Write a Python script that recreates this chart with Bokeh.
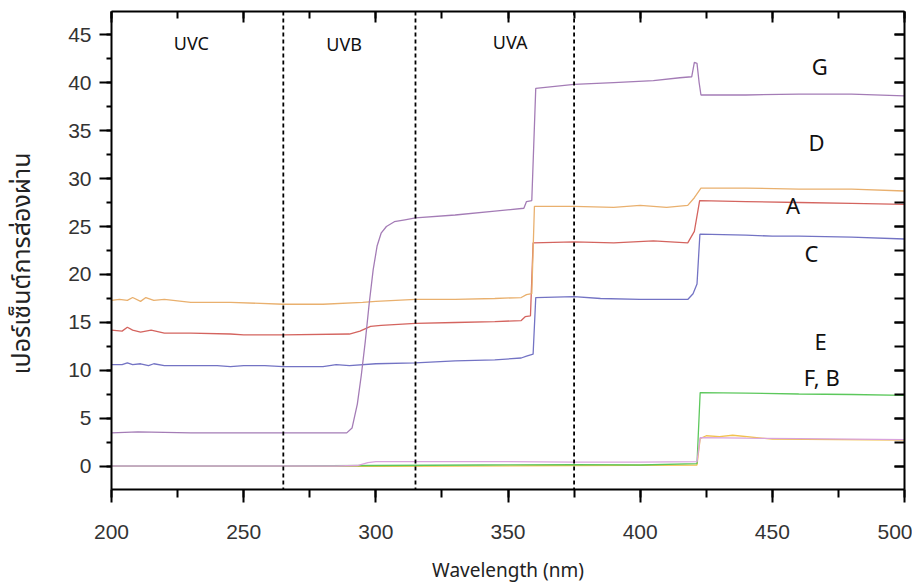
from bokeh.plotting import figure
from bokeh.models import LinearAxis, Range1d, SingleIntervalTicker, Span, ColumnDataSource
from bokeh.embed import file_html
from bokeh.resources import INLINE
from bokeh.core.properties import value

# ---------------- data ----------------
g_x = [200, 210, 230, 260, 289, 291, 293, 294.5, 296, 297.5, 299, 300.5, 302, 304, 307, 311, 315,
       330, 345, 356, 357, 359, 360.5, 375, 390, 405, 415, 419.5, 420.5, 421.5, 422.3, 423,
       440, 460, 480, 500]
g_y = [3.5, 3.6, 3.5, 3.5, 3.5, 4.0, 6.5, 9.5, 13.0, 17.0, 20.5, 23.0, 24.3, 25.0, 25.5, 25.7, 25.9,
       26.2, 26.6, 26.9, 27.6, 27.7, 39.4, 39.8, 40.0, 40.2, 40.5, 40.6, 42.1, 42.0, 40.0, 38.7,
       38.7, 38.8, 38.8, 38.6]

d_x = [200, 203, 206, 208, 211, 213, 216, 220, 230, 245, 265, 280, 295, 300, 315, 330, 345,
       355, 357, 359, 360, 375, 390, 400, 410, 418, 420.5, 423, 440, 460, 480, 500]
d_y = [17.3, 17.4, 17.3, 17.6, 17.2, 17.6, 17.3, 17.4, 17.1, 17.1, 16.9, 16.9, 17.1, 17.2, 17.4,
       17.4, 17.5, 17.6, 17.9, 18.0, 27.1, 27.1, 27.0, 27.2, 27.0, 27.2, 28.0, 29.0, 29.0, 28.9,
       28.9, 28.7]

a_x = [200, 204, 206, 208, 211, 215, 220, 230, 245, 250, 265, 290, 294, 298, 302, 315, 330, 345,
       355, 356.5, 358.5, 359.5, 375, 390, 405, 418, 420.5, 422.5, 440, 460, 480, 500]
a_y = [14.2, 14.1, 14.5, 14.2, 14.0, 14.2, 13.9, 13.9, 13.8, 13.7, 13.7, 13.8, 14.1, 14.6, 14.7,
       14.9, 15.0, 15.1, 15.2, 15.6, 15.7, 23.3, 23.4, 23.3, 23.5, 23.3, 24.5, 27.7, 27.6, 27.5,
       27.4, 27.3]

c_x = [200, 204, 206, 208, 211, 214, 216, 220, 230, 240, 245, 250, 258, 265, 280, 285, 290, 300,
       315, 330, 345, 355, 357, 359.5, 360.5, 375, 385, 400, 410, 418, 420, 421.5, 422.6, 440,
       450, 460, 480, 500]
c_y = [10.6, 10.6, 10.8, 10.6, 10.7, 10.5, 10.7, 10.5, 10.5, 10.5, 10.4, 10.5, 10.5, 10.4, 10.4,
       10.6, 10.5, 10.7, 10.8, 11.0, 11.1, 11.3, 11.5, 11.7, 17.6, 17.7, 17.5, 17.4, 17.4, 17.4,
       18.0, 19.0, 24.2, 24.1, 24.0, 24.0, 23.9, 23.7]

e_x = [200, 265, 300, 340, 375, 400, 421.5, 422.7, 440, 460, 480, 500]
e_y = [0.05, 0.05, 0.1, 0.15, 0.2, 0.15, 0.3, 7.7, 7.65, 7.55, 7.5, 7.4]

f_x = [200, 285, 293, 297, 300, 315, 350, 375, 400, 421.5, 422.7, 440, 460, 480, 500]
f_y = [0.05, 0.05, 0.1, 0.4, 0.5, 0.5, 0.5, 0.45, 0.45, 0.5, 3.0, 2.95, 2.9, 2.85, 2.8]

b_x = [200, 300, 375, 421.5, 422.7, 425, 430, 435, 450, 500]
b_y = [0.0, 0.0, 0.1, 0.15, 2.9, 3.2, 3.1, 3.25, 2.85, 2.75]

region_bounds = [265, 315, 375]
region_names = ["UVC", "UVB", "UVA"]
region_x = [230.2, 288.0, 350.8]
region_y = [44.1, 44.0, 44.25]

series_names = ["G", "D", "A", "C", "E", "F, B"]
series_lx = [467.9, 466.7, 457.8, 464.8, 468.3, 468.7]
series_ly = [41.75, 33.85, 27.2, 22.2, 13.1, 9.3]

x_title = "Wavelength (nm)"
# trailing no-break spaces nudge the rotated title toward the reference's lower position
y_title = "เปอร์เซ็นต์การส่องผ่าน" + "\u00a0" * 4

# ---------------- figure ----------------
p = figure(width=912, height=586, x_range=Range1d(200, 500), y_range=Range1d(-2.4, 47.4),
           output_backend="svg", toolbar_location=None,
           x_axis_location=None, y_axis_location=None,
           min_border_left=109, min_border_right=8, min_border_top=11, min_border_bottom=97)
p.outline_line_color = None
p.xgrid.visible = False
p.ygrid.visible = False
p.background_fill_color = "white"
p.border_fill_color = "white"

tick_font = "Liberation Sans"

left = LinearAxis(ticker=SingleIntervalTicker(interval=5, num_minor_ticks=2))
left.major_tick_out = 12
left.major_tick_in = 0
left.minor_tick_out = 5
left.minor_tick_in = 0
left.axis_line_width = 2
left.major_tick_line_width = 2
left.minor_tick_line_width = 2
left.major_label_text_font = tick_font
left.major_label_text_font_size = "21px"
left.major_label_text_color = "#333333"
left.major_label_standoff = 8
left.axis_label = y_title
left.axis_label_text_font = "Noto Sans Thai, Noto Sans, sans-serif"
left.axis_label_text_font_size = "25px"
left.axis_label_text_font_style = "normal"
left.axis_label_text_color = "#222222"
left.axis_label_standoff = 24
p.add_layout(left, "left")

bottom = LinearAxis(ticker=SingleIntervalTicker(interval=50, num_minor_ticks=2))
bottom.major_tick_out = 13
bottom.major_tick_in = 0
bottom.minor_tick_out = 8
bottom.minor_tick_in = 0
bottom.axis_line_width = 2
bottom.major_tick_line_width = 2
bottom.minor_tick_line_width = 2
bottom.major_label_text_font = tick_font
bottom.major_label_text_font_size = "21px"
bottom.major_label_text_color = "#333333"
bottom.major_label_standoff = 22
bottom.axis_label = x_title
bottom.axis_label_text_font = "Noto Sans"
bottom.axis_label_text_font_size = "19px"
bottom.axis_label_text_font_style = "normal"
bottom.axis_label_text_color = "#222222"
bottom.axis_label_standoff = 15
p.add_layout(bottom, "below")

top = LinearAxis(ticker=SingleIntervalTicker(interval=50, num_minor_ticks=2))
top.major_tick_in = 11
top.major_tick_out = 0
top.minor_tick_in = 7
top.minor_tick_out = 0
top.axis_line_width = 2
top.major_tick_line_width = 2
top.minor_tick_line_width = 2
top.major_label_text_font_size = "1px"
top.major_label_text_color = None
top.major_label_standoff = 0
p.add_layout(top, "above")

right = LinearAxis(ticker=SingleIntervalTicker(interval=5, num_minor_ticks=2))
right.major_tick_in = 10
right.major_tick_out = 0
right.minor_tick_in = 10
right.minor_tick_out = 0
right.axis_line_width = 2
right.major_tick_line_width = 2
right.minor_tick_line_width = 2
right.major_label_text_font_size = "1px"
right.major_label_text_color = None
right.major_label_standoff = 0
p.add_layout(right, "right")

# ---------------- lines ----------------
lw = 1.3
p.line(b_x, b_y, line_color="#f2c14e", line_width=lw)
p.line(e_x, e_y, line_color="#5cc85c", line_width=lw)
p.line(f_x, f_y, line_color="#d9a3dc", line_width=lw)
p.line(c_x, c_y, line_color="#7373c4", line_width=lw)
p.line(a_x, a_y, line_color="#d4645f", line_width=lw)
p.line(d_x, d_y, line_color="#e9b06e", line_width=lw)
p.line(g_x, g_y, line_color="#a47cb6", line_width=lw)

for xb in region_bounds:
    p.add_layout(Span(location=xb, dimension="height", line_color="black",
                      line_width=1.8, line_dash="4 3"))

src_r = ColumnDataSource(dict(x=region_x, y=region_y, t=region_names))
p.text(x="x", y="y", text="t", source=src_r, text_align="center", text_baseline="middle",
       text_font=value("Noto Sans"), text_font_size="18px", text_color="#111111")

src_s = ColumnDataSource(dict(x=series_lx, y=series_ly, t=series_names))
p.text(x="x", y="y", text="t", source=src_s, text_align="center", text_baseline="middle",
       text_font=value("Noto Sans"), text_font_size="22px", text_color="#111111")

open("out.html", "w").write(file_html(p, INLINE))
